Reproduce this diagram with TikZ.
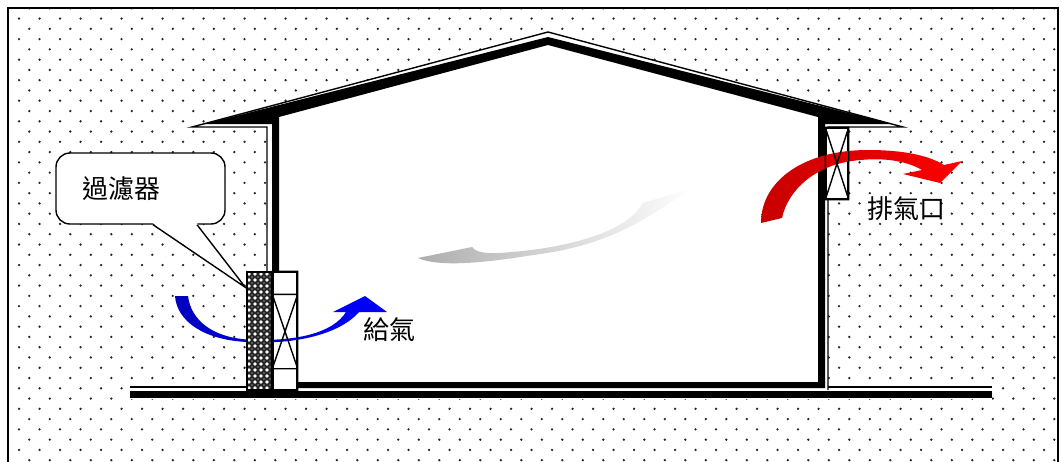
\documentclass[tikz,border=0pt]{standalone}
\usepackage{fontspec}
\newfontfamily\cjk{Noto Sans CJK TC}
\usetikzlibrary{positioning,calc}

\begin{document}
\begin{tikzpicture}[x=1pt, y=-1pt,
    thinline/.style={line width=1.4pt},
    dot/.style={fill=black!85},
    boxline/.style={draw, line width=1.4pt, fill=white, inner sep=0pt},
    filterbox/.style={draw, line width=1.2pt, fill=black!85, inner sep=0pt,
        minimum width=25pt, minimum height=118pt,
        path picture={
            \foreach \i in {0,...,4} \foreach \j in {0,...,19} {
                \fill[white] ($(path picture bounding box.north west)+(2+6*\i,2+6*\j)$) circle (1.9pt);
                \fill[black!45] ($(path picture bounding box.north west)+(5+6*\i,5+6*\j)$) circle (0.8pt);
            }}},
    bubble/.style={draw, fill=white, line width=1.4pt, rounded corners=14pt,
        text width=117pt, inner xsep=26pt, align=left, minimum height=71pt},
    cjktext/.style={font=\cjk\fontsize{26}{26}\selectfont, inner sep=0pt}]

    \useasboundingbox (0,0) rectangle (1061,461);

    % dotted ground
    \foreach \r in {0,...,44} {
        \pgfmathsetmacro\yy{8.3+10.27*\r}
        \pgfmathsetmacro\xo{29.3-10.25*mod(\r,2)}
        \foreach \c in {0,...,50}
            \fill[dot] (\xo+20.5*\c,\yy) circle (1.3pt);
    }
    \draw[line width=1.7pt] (8,470) -- (8,8) -- (1058,8) -- (1058,470);

    % house
    \fill[white] (267,390) -- (267,127) -- (192,127) -- (548,32) -- (903,127)
        -- (828,127) -- (828,390) -- cycle;
    \fill[white] (130,386) rectangle (992,399);
    \draw[thinline] (267,272) -- (267,127) -- (192,127) -- (548,32) -- (903,127)
        -- (828,127) -- (828,390);
    \draw[thinline] (130,387) -- (247,387) (828,387) -- (992,387);
    \fill (130,391) rectangle (992,398);
    \fill[even odd rule] (204,124) -- (548,37) -- (892,124) -- (825,124)
        -- (825,388) -- (272,388) -- (272,124) -- cycle
        (279,117) -- (548,45) -- (818,117) -- (818,382) -- (279,382) -- cycle;

    % air flow inside
    \shade[left color=black!32, right color=white]
        (418,258) -- (472,247) .. controls (477,254) and (492,254) .. (512,252)
        .. controls (560,248) and (625,235) .. (643,203) -- (693,188)
        .. controls (650,215) and (615,245) .. (533,255)
        .. controls (490,262) and (440,268) .. (418,258) -- cycle;

    \node[boxline, minimum width=22pt, minimum height=71pt] (vent) at (837,163.5) {};
    \node[boxline, minimum width=24pt, minimum height=118pt] (fan) at (285,331) {};

    \shade[left color=red!78!black, right color=red]
        (761,223) .. controls (761,180) and (805,150) .. (868,150)
        .. controls (902,150) and (928,155) .. (944,165)
        -- (962,161) -- (940,183) -- (903,174) -- (922,170)
        .. controls (905,160) and (880,157) .. (852,161)
        .. controls (815,166) and (788,190) .. (782,218) -- cycle;
    \shade[left color=blue!75!black, right color=blue]
        (175,296) .. controls (177,322) and (205,340) .. (247,342)
        .. controls (295,345) and (340,334) .. (359,312)
        -- (387,312) -- (365,296) -- (333,312) -- (346,312)
        .. controls (333,333) and (296,342) .. (247,339.5)
        .. controls (212,337) and (191,320) .. (188,296) -- cycle;

    \draw[thinline] (vent.north west) rectangle (vent.south east)
        (vent.north west) -- (vent.south east) (vent.north east) -- (vent.south west);
    \coordinate (fa) at ($(fan.north west)+(0,23)$);
    \coordinate (fb) at ($(fan.north east)+(0,23)$);
    \coordinate (fc) at ($(fan.south west)+(0,-22)$);
    \coordinate (fd) at ($(fan.south east)+(0,-22)$);
    \draw[thinline] (fan.north west) rectangle (fan.south east)
        (fa) -- (fb) (fc) -- (fd) (fa) -- (fd) (fb) -- (fc);

    \node[filterbox] (filter) at (259.5,331) {};

    % callout
    \node[bubble] (filtertag) at (140.5,188.5) {\cjk\fontsize{26}{26}\selectfont 過濾器};
    \coordinate (tip) at ($(filter.north west)+(-1,16)$);
    \coordinate (baseL) at ($(filtertag.south)+(12.5,0)$);
    \coordinate (baseR) at ($(filtertag.south)+(56.5,0)$);
    \fill[white] ($(baseL)+(0,-1.5)$) -- (tip) -- ($(baseR)+(0,-1.5)$) -- cycle;
    \draw[thinline] (baseL) -- (tip) -- (baseR);

    \node[cjktext] (supply) at (389,330) {給氣};
    \node[cjktext] (exhaust) at (906,209) {排氣口};
\end{tikzpicture}
\end{document}
